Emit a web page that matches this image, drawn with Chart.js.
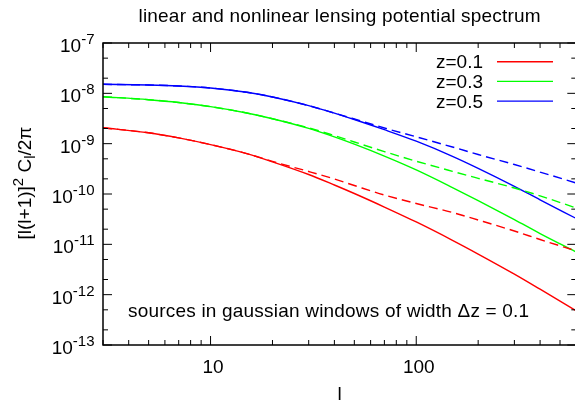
<!DOCTYPE html>
<html lang="en">
<head>
<meta charset="UTF-8">
<title>Lensing potential spectrum</title>
<script src="https://cdn.jsdelivr.net/npm/chart.js"></script>
<style>
  html, body { margin: 0; padding: 0; background: #fff; overflow: hidden; }
  #wrap { width: 580px; height: 401px; }
</style>
</head>
<body>
<div id="wrap"><canvas id="spectrum"></canvas></div>
<script>
// multipole l and [l(l+1)]^2 C_l / 2pi for three source redshifts
const multipoles = [3, 5, 7, 10, 15, 20, 30, 40, 50, 70, 100, 150, 200, 300, 400, 600];

const z01Linear    = [2.07e-9, 1.643e-9, 1.301e-9, 9.58e-10, 6.35e-10, 4.36e-10, 2.44e-10, 1.509e-10, 1.023e-10, 5.51e-11, 2.78e-11, 1.202e-11, 6.42e-12, 2.56e-12, 1.283e-12, 4.78e-13];
const z01Nonlinear = [2.07e-9, 1.643e-9, 1.301e-9, 9.58e-10, 6.35e-10, 4.44e-10, 2.80e-10, 1.985e-10, 1.475e-10, 9.55e-11, 6.47e-11, 4.29e-11, 3.04e-11, 1.84e-11, 1.247e-11, 7.37e-12];
const z03Linear    = [8.57e-9, 7.47e-9, 6.57e-9, 5.43e-9, 4.07e-9, 3.13e-9, 2.01e-9, 1.362e-9, 9.76e-10, 5.66e-10, 3.01e-10, 1.345e-10, 7.42e-11, 3.11e-11, 1.64e-11, 7.04e-12];
const z03Nonlinear = [8.57e-9, 7.47e-9, 6.57e-9, 5.43e-9, 4.07e-9, 3.13e-9, 2.066e-9, 1.446e-9, 1.079e-9, 6.95e-10, 4.48e-10, 2.82e-10, 2.05e-10, 1.315e-10, 9.2e-11, 5.27e-11];
const z05Linear    = [1.51e-8, 1.464e-8, 1.398e-8, 1.276e-8, 1.048e-8, 8.46e-9, 5.70e-9, 4.05e-9, 3.02e-9, 1.894e-9, 1.119e-9, 5.61e-10, 3.24e-10, 1.422e-10, 7.67e-11, 3.26e-11];
const z05Nonlinear = [1.51e-8, 1.464e-8, 1.398e-8, 1.276e-8, 1.048e-8, 8.46e-9, 5.70e-9, 4.05e-9, 3.09e-9, 2.05e-9, 1.368e-9, 8.58e-10, 6.09e-10, 3.85e-10, 2.73e-10, 1.653e-10];

const legendLabels = ['z=0.1', 'z=0.3', 'z=0.5'];
const curveColors = ['#ff0000', '#00ff00', '#0000ff'];

const xTickValues = [3, 4, 5, 6, 7, 8, 9, 10, 20, 30, 40, 50, 60, 70, 80, 90, 100, 200, 300, 400, 500, 600];
const xTickLabels = { 10: '10', 100: '100' };
const yDecades = [-7, -8, -9, -10, -11, -12, -13];

const FONT = "'Liberation Sans', Arial, Helvetica, sans-serif";
const font = size => size + 'px ' + FONT;

function series(values) {
    return multipoles.map((l, i) => ({ x: l, y: values[i] }));
}

function curve(values, color, dashed) {
    return {
        data: series(values),
        borderColor: color,
        borderWidth: 1.4,
        borderDash: dashed ? [9, 5] : [],
        pointRadius: 0,
        fill: false,
        cubicInterpolationMode: 'monotone'
    };
}

// draws pieces of text in sequence on one baseline; each piece may be raised or lowered
function richText(ctx, parts, x, y) {
    let cx = x;
    parts.forEach(p => {
        ctx.font = font(p.size);
        ctx.fillText(p.text, cx, y - (p.rise || 0));
        cx += ctx.measureText(p.text).width;
    });
    return cx - x;
}

function richWidth(ctx, parts) {
    let w = 0;
    parts.forEach(p => {
        ctx.font = font(p.size);
        w += ctx.measureText(p.text).width;
    });
    return w;
}

const gnuplotFrame = {
    id: 'gnuplotFrame',
    afterDraw(chart) {
        const { ctx, chartArea: a, scales: { x, y } } = chart;
        ctx.save();
        ctx.fillStyle = '#000';
        ctx.strokeStyle = '#000';

        // border
        ctx.lineWidth = 1.5;
        ctx.strokeRect(a.left, a.top, a.right - a.left, a.bottom - a.top);

        // tick marks pointing inwards, mirrored on the opposite side
        ctx.lineWidth = 1;
        ctx.beginPath();
        xTickValues.forEach(v => {
            const px = x.getPixelForValue(v);
            const len = xTickLabels[v] ? 9 : 5;
            ctx.moveTo(px, a.bottom); ctx.lineTo(px, a.bottom - len);
            ctx.moveTo(px, a.top); ctx.lineTo(px, a.top + len);
        });
        yDecades.forEach(e => {
            [1, 2, 5].forEach(m => {
                const v = m * Math.pow(10, e);
                if (v > 1.0001e-7) return;
                const py = y.getPixelForValue(v);
                const len = m === 1 ? 9 : 5;
                ctx.moveTo(a.left, py); ctx.lineTo(a.left + len, py);
                ctx.moveTo(a.right, py); ctx.lineTo(a.right - len, py);
            });
        });
        ctx.stroke();

        // x tick labels
        ctx.textBaseline = 'alphabetic';
        ctx.textAlign = 'center';
        ctx.font = font(19);
        Object.keys(xTickLabels).forEach(v => {
            ctx.fillText(xTickLabels[v], x.getPixelForValue(+v) + 2.5, 373);
        });

        // y tick labels as 10 with a raised exponent
        ctx.textAlign = 'left';
        yDecades.forEach(e => {
            const py = y.getPixelForValue(Math.pow(10, e));
            const parts = [
                { text: '10', size: 19 },
                { text: String(e), size: 15, rise: 8 }
            ];
            const w = richWidth(ctx, parts);
            richText(ctx, parts, 94.5 - w, py + 9);
        });

        // title
        ctx.textAlign = 'center';
        ctx.font = font(19);
        ctx.letterSpacing = '0.2px';
        ctx.fillText('linear and nonlinear lensing potential spectrum', (a.left + a.right) / 2, 22);

        // annotation
        ctx.textAlign = 'left';
        ctx.fillText('sources in gaussian windows of width \u0394z = 0.1', 128, 317);
        ctx.letterSpacing = '0px';

        // x axis title
        ctx.textAlign = 'center';
        ctx.fillText('l', (a.left + a.right) / 2, 400);

        // y axis title, rotated
        const yParts = [
            { text: '[l(l+1)]', size: 19 },
            { text: '2', size: 15, rise: 8 },
            { text: ' C', size: 19 },
            { text: 'l', size: 15, rise: -4 },
            { text: '/2\u03c0', size: 19 }
        ];
        ctx.save();
        ctx.translate(31, 183);
        ctx.rotate(-Math.PI / 2);
        ctx.textAlign = 'left';
        const yw = richWidth(ctx, yParts);
        richText(ctx, yParts, -yw / 2, 0);
        ctx.restore();

        // key
        ctx.font = font(19);
        ctx.textAlign = 'right';
        ctx.lineWidth = 1.4;
        legendLabels.forEach((label, i) => {
            const base = 68.3 + i * 19.7;
            ctx.fillStyle = '#000';
            ctx.fillText(label, 483, base);
            ctx.strokeStyle = curveColors[i];
            ctx.beginPath();
            ctx.moveTo(497, base - 6.6);
            ctx.lineTo(553, base - 6.6);
            ctx.stroke();
        });

        ctx.restore();
    }
};

new Chart(document.getElementById('spectrum'), {
    type: 'line',
    data: {
        datasets: [
            curve(z01Linear, curveColors[0], false),
            curve(z01Nonlinear, curveColors[0], true),
            curve(z03Linear, curveColors[1], false),
            curve(z03Nonlinear, curveColors[1], true),
            curve(z05Linear, curveColors[2], false),
            curve(z05Nonlinear, curveColors[2], true)
        ]
    },
    options: {
        responsive: true,
        maintainAspectRatio: false,
        animation: false,
        layout: { padding: { top: 43, right: 3.7, left: 0, bottom: 0 } },
        plugins: { legend: { display: false }, tooltip: { enabled: false } },
        scales: {
            x: {
                type: 'logarithmic',
                min: 3,
                max: 600,
                ticks: { display: false },
                grid: { display: false },
                border: { display: false },
                afterFit: s => { s.height = 56; }
            },
            y: {
                type: 'logarithmic',
                min: 1e-13,
                max: 1e-7,
                ticks: { display: false },
                grid: { display: false },
                border: { display: false },
                afterFit: s => { s.width = 103; }
            }
        }
    },
    plugins: [gnuplotFrame]
});
</script>
</body>
</html>
